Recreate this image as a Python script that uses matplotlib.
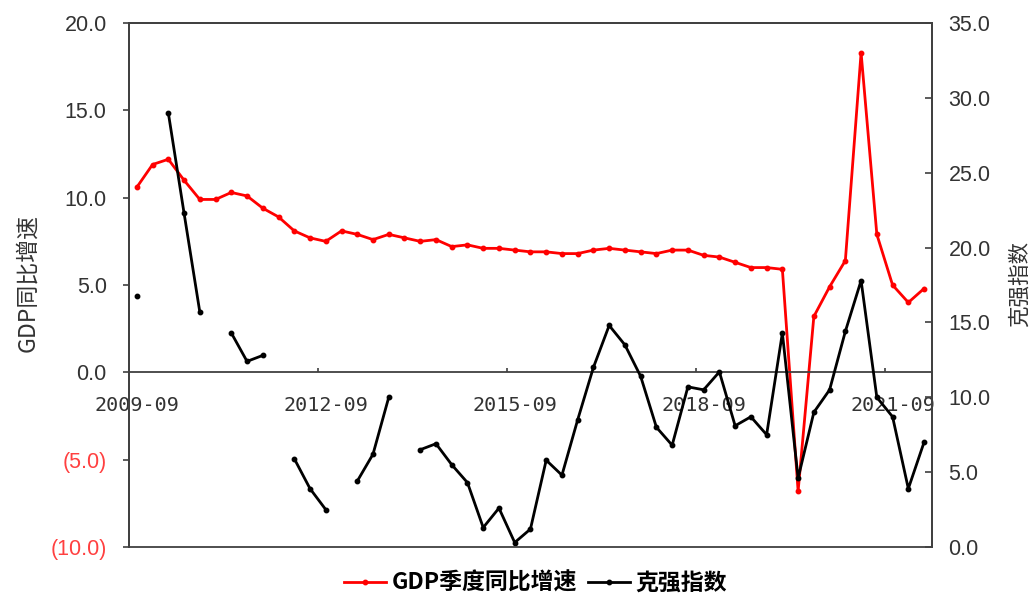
import numpy as np
import matplotlib
matplotlib.use("Agg")
import matplotlib.pyplot as plt
from matplotlib.ticker import FixedLocator, FuncFormatter

# quarterly categories 2009-09 .. 2022-03
quarters = [f"{y}-{m:02d}" for y in range(2009, 2023) for m in (3, 6, 9, 12)][2:53]

# GDP year-on-year growth, % (left axis)
gdp_yoy = [10.6, 11.9, 12.2, 11.0, 9.9, 9.9, 10.3, 10.1, 9.4, 8.9,
           8.1, 7.7, 7.5, 8.1, 7.9, 7.6, 7.9, 7.7, 7.5, 7.6,
           7.2, 7.3, 7.1, 7.1, 7.0, 6.9, 6.9, 6.8, 6.8, 7.0,
           7.1, 7.0, 6.9, 6.8, 7.0, 7.0, 6.7, 6.6, 6.3, 6.0,
           6.0, 5.9, -6.8, 3.2, 4.9, 6.4, 18.3, 7.9, 5.0, 4.0,
           4.8]

# Li Keqiang index (right axis); Q4 gaps in early years
keqiang = [16.8, np.nan, 29.0, 22.3, 15.7, np.nan, 14.3, 12.4, 12.8, np.nan,
           5.9, 3.9, 2.5, np.nan, 4.4, 6.2, 10.0, np.nan, 6.5, 6.9,
           5.5, 4.3, 1.3, 2.6, 0.3, 1.2, 5.8, 4.8, 8.5, 12.0,
           14.8, 13.5, 11.4, 8.0, 6.8, 10.7, 10.5, 11.7, 8.1, 8.7,
           7.5, 14.3, 4.6, 9.0, 10.5, 14.4, 17.8, 10.0, 8.7, 3.9,
           7.0]

n = len(quarters)
x = np.arange(n)
label_step = 12

plt.rcParams["font.family"] = ["Liberation Sans", "Noto Sans CJK SC"]
frame_col = "#404040"
text_col = "#333333"

fig = plt.figure(figsize=(10.3, 6), dpi=100)
ax = fig.add_axes([0.1252, 0.0883, 0.7796, 0.8733])
ax2 = ax.twinx()

l1, = ax.plot(x, gdp_yoy, color="#FF0000", lw=2.0, marker="o", ms=3.2,
              label="GDP季度同比增速")
l2, = ax2.plot(x, keqiang, color="black", lw=2.0, marker="o", ms=3.2,
               label="克强指数")

# left axis: -10..20, negatives in red brackets
ax.set_xlim(-0.5, n - 0.5)
ax.set_ylim(-10, 20)
ax.set_yticks(np.arange(-10, 21, 5))
ax.yaxis.set_major_formatter(
    FuncFormatter(lambda v, p: f"({abs(v):.1f})" if v < 0 else f"{v:.1f}"))
ax.tick_params(axis="y", direction="out", length=4, width=1.2,
               color=frame_col, labelsize=15.5, pad=12)
for lbl, v in zip(ax.get_yticklabels(), ax.get_yticks()):
    lbl.set_color("#FF4040" if v < 0 else text_col)

# category axis sits on the zero line
ax.spines["bottom"].set_position(("data", 0))
ax.xaxis.set_major_locator(FixedLocator(range(0, n, label_step)))
ax.set_xticklabels([quarters[i] for i in range(0, n, label_step)],
                   family="DejaVu Sans Mono", fontsize=14.5, color=text_col)
ax.xaxis.set_minor_locator(FixedLocator(np.arange(label_step - 0.5, n, label_step)))
ax.tick_params(axis="x", which="major", length=0, pad=17)
ax.tick_params(axis="x", which="minor", direction="in", length=3,
               width=1.2, color=frame_col)

# right axis
ax2.set_ylim(0, 35)
ax2.set_yticks(np.arange(0, 36, 5))
ax2.yaxis.set_major_formatter(FuncFormatter(lambda v, p: f"{v:.1f}"))
ax2.tick_params(axis="y", direction="in", length=5, width=1.2,
                color=frame_col, labelsize=15.5, labelcolor=text_col, pad=12)

for a in (ax, ax2):
    for s in a.spines.values():
        s.set_color(frame_col)
        s.set_linewidth(1.3)

fig.text(27.5 / 1030, 1 - 283 / 600, "GDP同比增速", rotation=90,
         ha="center", va="center", fontsize=16.5, color=text_col,
         family=["Noto Sans CJK SC"])
fig.text(1020 / 1030, 1 - 284 / 600, "克强指数", rotation=90,
         ha="center", va="center", fontsize=15.5, color=text_col,
         family=["Noto Sans CJK SC"])

fig.legend([l1, l2], [l1.get_label(), l2.get_label()], loc="lower center",
           bbox_to_anchor=(0.52, -0.018), ncol=2, frameon=False,
           prop={"family": ["Noto Sans CJK SC"], "weight": "bold", "size": 16.5},
           handlelength=1.8, handletextpad=0.25, columnspacing=0.5,
           borderpad=0.2)

fig.savefig("out.png", dpi=100)
